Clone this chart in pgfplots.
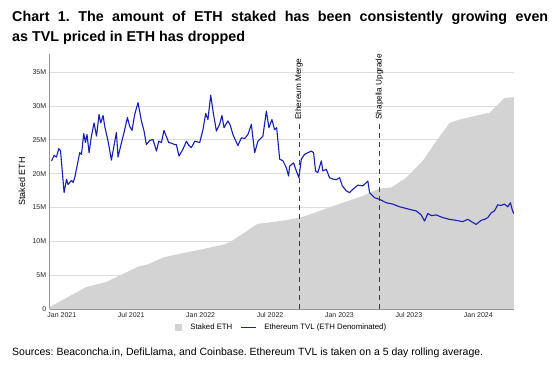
\documentclass[border=0pt]{standalone}
\usepackage{fontspec}
\setmainfont{Liberation Sans}
\usepackage{pgfplots}
\pgfplotsset{compat=1.18}
\definecolor{tvlblue}{RGB}{22,30,180}
\definecolor{stakegray}{RGB}{211,211,211}
\definecolor{gridgray}{RGB}{220,220,220}
\definecolor{axisgray}{RGB}{150,150,150}
\definecolor{vlinegray}{RGB}{60,60,60}
\frenchspacing
\begin{document}
\begin{tikzpicture}[x=1pt,y=1pt]
\useasboundingbox (0,0) rectangle (556,382);
\fill[white] (0,0) rectangle (556,382);
\node[anchor=base west, inner sep=0, font=\bfseries\fontsize{14.3}{20}\selectfont] at (12,360) {\makebox[536pt][s]{Chart 1. The amount of ETH staked has been consistently growing even}};
\node[anchor=base west, inner sep=0, font=\bfseries\fontsize{14.3}{20}\selectfont] at (12,340) {as TVL priced in ETH has dropped};
\node[anchor=base west, inner sep=0, font=\fontsize{10.5}{11}\selectfont] at (12,26) {Sources: Beaconcha.in, DefiLlama, and Coinbase. Ethereum TVL is taken on a 5 day rolling average.};
\begin{axis}[
  scale only axis, width=464pt, height=255pt,
  anchor=south west, at={(43,108)},
  xmin=-1.04, xmax=39.06, ymin=0, ymax=37.7,
  axis lines*=left,
  axis line style={axisgray, line width=0.8pt},
  ytick={0,5,10,15,20,25,30,35},
  yticklabels={0,5M,10M,15M,20M,25M,30M,35M},
  xtick={0,6,12,18,24,30,36},
  xticklabels={Jan 2021,Jul 2021,Jan 2022,Jul 2022,Jan 2023,Jul 2023,Jan 2024},
  major tick length=0pt,
  ymajorgrids, grid style={gridgray, line width=0.7pt},
  tick label style={font=\fontsize{7}{8}\selectfont, text=black!85},
  ylabel={Staked ETH},
  ylabel style={at={(axis description cs:-0.060,0.5)}, anchor=center, font=\fontsize{9}{10}\selectfont},
  legend columns=2,
  legend style={at={(0.5,-0.047)}, anchor=north, draw=none, fill=none,
    font=\fontsize{7.8}{9}\selectfont, column sep=6pt, inner sep=1pt},
  legend cell align=left,
]
\addplot[fill=stakegray, draw=none,
  legend image code/.code={\fill[stakegray] (1pt,-3.5pt) rectangle (8pt,3.5pt);}] coordinates {
(-1.04,0.3) (2.13,3.25) (3.86,4.0) (6.59,6.25) (7.45,6.6) (8.75,7.6) (10.04,8.1)
(12.06,8.8) (14.08,9.55) (14.65,10.0) (16.95,12.6) (17.82,12.75) (19.26,13.1)
(20.27,13.4) (20.98,13.7) (23.43,15.2) (26.02,16.7) (26.88,17.4) (27.46,17.8)
(28.47,17.95) (29.77,19.4) (31.2,21.9) (32.36,24.8) (33.51,27.5) (34.37,28.0)
(36.24,28.75) (36.96,29.0) (37.68,30.2) (38.26,31.2) (39.06,31.3)
} \closedcycle;
\addlegendentry{Staked ETH}
\addplot[tvlblue, line width=1.1pt, line join=round,
  legend image code/.code={\draw[tvlblue, line width=1pt] (0pt,0pt) -- (15pt,0pt);}] coordinates {
(-0.89,21.9) (-0.66,22.7) (-0.46,22.45) (-0.26,23.7) (-0.11,23.4) (0.20,17.2)
(0.41,19.2) (0.54,18.4) (0.84,19.0) (0.98,18.7) (1.12,19.4) (1.41,21.9)
(1.55,23.1) (1.70,22.85) (1.90,25.9) (2.05,24.6) (2.18,25.8) (2.36,23.1)
(2.56,25.55) (2.79,27.5) (3.00,25.55) (3.22,28.75) (3.37,27.5) (3.57,28.6)
(3.71,27.0) (4.00,24.8) (4.29,22.0) (4.72,26.1) (4.86,22.45) (5.09,24.1)
(5.38,26.1) (5.67,28.3) (5.87,27.0) (6.07,26.4) (6.30,28.75) (6.59,30.5)
(6.88,27.8) (7.11,26.3) (7.31,24.3) (7.60,24.9) (7.88,25.05) (8.18,23.35)
(8.38,24.8) (8.61,24.6) (8.83,26.4) (9.24,24.6) (9.50,24.5) (9.76,24.3)
(9.90,24.3) (10.13,22.6) (10.47,23.6) (10.77,24.8) (10.97,24.2) (11.20,23.85)
(11.49,24.8) (11.92,24.6) (12.20,26.5) (12.44,28.9) (12.63,28.0) (12.87,31.6)
(13.07,29.25) (13.36,26.3) (13.64,27.3) (13.84,28.6) (14.02,26.8) (14.36,27.8)
(14.55,27.2) (14.79,25.8) (15.22,24.15) (15.52,25.3) (15.80,25.2) (16.09,25.8)
(16.38,27.3) (16.67,23.1) (16.95,24.8) (17.38,25.55) (17.68,29.25) (17.90,26.8)
(18.16,28.0) (18.39,26.5) (18.57,26.8) (18.83,22.15) (19.11,21.9) (19.40,20.9)
(19.60,19.65) (19.69,21.1) (20.03,21.6) (20.27,20.4) (20.49,19.4) (20.70,22.15)
(20.98,22.85) (21.27,23.1) (21.56,23.35) (21.76,23.1) (21.93,20.4) (22.13,20.15)
(22.43,21.9) (22.56,20.4) (22.86,20.65) (23.14,19.4) (23.43,19.2) (23.72,19.1)
(24.01,19.4) (24.24,18.2) (24.59,17.45) (24.87,17.2) (25.16,17.7) (25.59,18.3)
(26.02,18.2) (26.45,18.9) (26.60,17.2) (27.03,16.45) (27.46,16.2) (28.04,15.7)
(28.61,15.5) (29.19,15.1) (29.77,14.85) (30.34,14.6) (30.63,14.5) (31.06,13.9)
(31.35,13.0) (31.63,14.1) (31.95,13.8) (32.36,13.9) (32.93,13.5) (33.51,13.25)
(34.08,13.1) (34.65,12.9) (35.09,13.25) (35.41,12.9) (35.81,12.5) (36.24,13.1)
(36.53,13.25) (36.81,13.5) (37.11,14.2) (37.39,14.5) (37.68,15.4) (37.96,15.3)
(38.26,15.5) (38.54,15.1) (38.77,15.7) (38.92,14.7) (39.06,14.1)
};
\addlegendentry{Ethereum TVL (ETH Denominated)}
\draw[vlinegray, line width=0.8pt, dash pattern=on 5pt off 4pt] (axis cs:20.5,0) -- (axis cs:20.5,27.8);
\draw[vlinegray, line width=0.8pt, dash pattern=on 5pt off 4pt] (axis cs:27.46,0) -- (axis cs:27.46,27.8);
\node[rotate=90, anchor=west, inner sep=0.5pt, font=\fontsize{8.2}{9}\selectfont] at (axis cs:20.5,27.9) {Ethereum Merge};
\node[rotate=90, anchor=west, inner sep=0.5pt, font=\fontsize{8.2}{9}\selectfont] at (axis cs:27.46,27.9) {Shapella Upgrade};
\end{axis}
\end{tikzpicture}
\end{document}
